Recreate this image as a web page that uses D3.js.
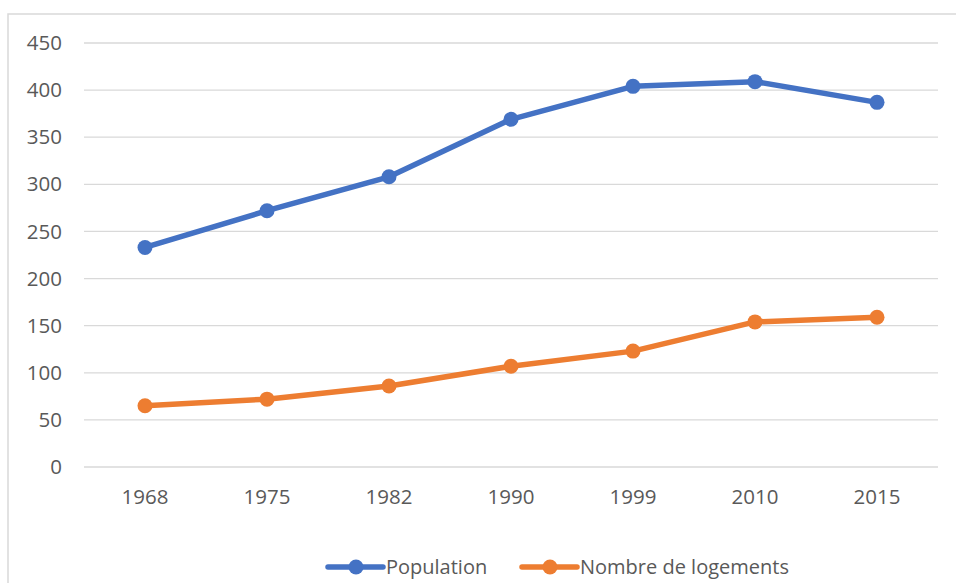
<!DOCTYPE html>
<html><head><meta charset="utf-8">
<script src="https://cdn.jsdelivr.net/npm/d3@7"></script>
<style>body{margin:0;background:#fff}svg{display:block}text{font-family:"Open Sans",sans-serif;fill:#595959}</style>
</head><body><svg id="c" width="956" height="583"></svg>
<script>
const years = ["1968","1975","1982","1990","1999","2010","2015"];
const population = [233, 272, 308, 369, 404, 409, 387];
const logements = [65, 72, 86, 107, 123, 154, 159];
const yTicks = [0, 50, 100, 150, 200, 250, 300, 350, 400, 450];
const seriesNames = ["Population", "Nombre de logements"];
const colors = ["#4472C4", "#ED7D31"];

const svg = d3.select("#c");
svg.append("rect").attr("x",8).attr("y",14).attr("width",1000).attr("height",1000)
  .attr("fill","#fff").attr("stroke","#d9d9d9").attr("stroke-width",1.5);

const x = d3.scaleBand().domain(years).range([84, 938]);
const y = d3.scaleLinear().domain([0, 450]).range([467, 43]);

const g = svg.append("g");
g.selectAll("line.grid").data(yTicks).join("line").attr("class","grid")
  .attr("x1",84).attr("x2",938).attr("y1",d=>y(d)).attr("y2",d=>y(d))
  .attr("stroke","#d9d9d9").attr("stroke-width",1.3);

const yAxis = svg.append("g").attr("transform","translate(84,0)")
  .call(d3.axisLeft(y).tickValues(yTicks).tickSize(0).tickPadding(22));
yAxis.select(".domain").remove();
yAxis.selectAll("text").style("font-size","20.5px").attr("fill","#595959");

const xAxis = svg.append("g").attr("transform","translate(0,467)")
  .call(d3.axisBottom(x).tickSize(0).tickPadding(22));
xAxis.select(".domain").remove();
xAxis.selectAll("text").style("font-size","20.5px").attr("fill","#595959");

const data = [population, logements];
const line = d3.line().x((d,i)=>x(years[i])+x.bandwidth()/2).y(d=>y(d));
data.forEach((s, k) => {
  svg.append("path").datum(s).attr("d", line).attr("fill","none")
    .attr("stroke", colors[k]).attr("stroke-width",5.5).attr("stroke-linejoin","round").attr("stroke-linecap","round");
  svg.selectAll("circle.s"+k).data(s).join("circle").attr("class","s"+k)
    .attr("cx",(d,i)=>x(years[i])+x.bandwidth()/2).attr("cy",d=>y(d)).attr("r",7.5)
    .attr("fill", colors[k]);
});

const legX = [328, 522];
const legY = 567;
seriesNames.forEach((n, k) => {
  const lg = svg.append("g");
  lg.append("line").attr("x1",legX[k]).attr("x2",legX[k]+55).attr("y1",legY).attr("y2",legY)
    .attr("stroke",colors[k]).attr("stroke-width",5.5).attr("stroke-linecap","round");
  lg.append("circle").attr("cx",legX[k]+28).attr("cy",legY).attr("r",7.5).attr("fill",colors[k]);
  lg.append("text").attr("x",legX[k]+58).attr("y",legY).attr("dy","0.35em")
    .style("font-size","20px").text(n);
});
</script></body></html>
